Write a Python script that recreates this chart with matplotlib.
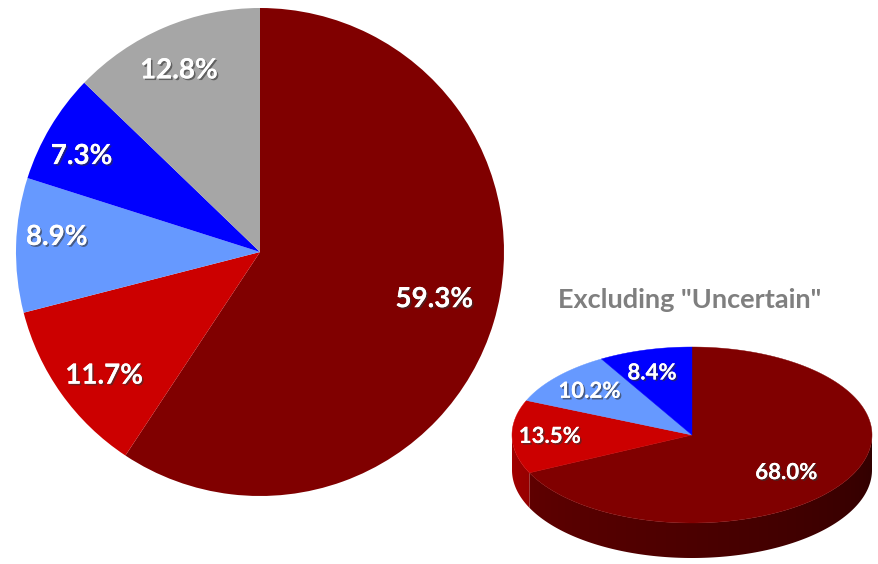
import numpy as np
import matplotlib
matplotlib.use("Agg")
import matplotlib.pyplot as plt
import matplotlib.patheffects as pe
from matplotlib.patches import Polygon

# ---- data ----
big_labels = ["Cat A", "Cat B", "Cat C", "Cat D", "Uncertain"]
big_values = [59.3, 11.7, 8.9, 7.3, 12.8]
small_labels = ["Cat A", "Cat B", "Cat C", "Cat D"]
small_values = [68.0, 13.5, 10.2, 8.4]
small_title = 'Excluding "Uncertain"'

# ---- styles ----
big_colors = ["#800000", "#CC0000", "#6699FF", "#0000FF", "#A6A6A6"]
small_colors = ["#800000", "#CC0000", "#6699FF", "#0000FF"]
big_label_r = [0.74, 0.815, 0.835, 0.83, 0.815]
big_label_dang = [1.6, 3.0, -2.6, 2.5, 1.0]
small_label_fx = [0.62, 0.79, 0.76, 0.85]
small_label_fy = [0.80, 0.79, 0.75, 0.73]

W, H = 879, 564
fig = plt.figure(figsize=(W / 100, H / 100), dpi=100)
ax = fig.add_axes([0, 0, 1, 1])

FONT = ["Lato", "DejaVu Sans"]
shadow = [pe.withSimplePatchShadow(offset=(1.2, -1.2), shadow_rgbFace="#333333", alpha=0.6), pe.Normal()]

# ---- big pie ----
bcx, bcy, br = 260, H - 252, 244
ax.pie(big_values, colors=big_colors, startangle=90, counterclock=False,
       center=(bcx, bcy), radius=br, wedgeprops=dict(linewidth=0))
tot = sum(big_values)
cum = 0.0
for v, d, da in zip(big_values, big_label_r, big_label_dang):
    mid = 90 - 360 * (cum + v / 2) / tot + da
    cum += v
    t = np.deg2rad(mid)
    ax.text(bcx + d * br * np.cos(t), bcy + d * br * np.sin(t), f"{v:.1f}%",
            ha="center", va="center", color="white", fontsize=20, fontweight="bold",
            family=FONT, path_effects=shadow, zorder=5)

# ---- small 3D pie ----
scx, scy, rx, ry, depth = 692, H - 435, 180, 88, 35
stot = sum(small_values)

cum = 0.0
bounds = []
for v in small_values:
    a0 = 90 - 360 * cum / stot
    a1 = 90 - 360 * (cum + v) / stot
    bounds.append((a0, a1))
    cum += v

# gradient image for side walls: shade depends on x position (angle in front half)
xs_img = np.linspace(scx - rx, scx + rx, 400)
ang_img = 360 - np.rad2deg(np.arccos(np.clip((xs_img - scx) / rx, -1, 1)))  # 180..360
k_img = 0.8 - 0.42 * (ang_img - 180) / 180

for (a0, a1), col in zip(bounds, small_colors):
    lo, hi = min(a0, a1), max(a0, a1)
    # front half in this slice's angular range
    segs = []
    for base in (-360, 0, 360):
        s0, s1 = max(lo, 180 + base), min(hi, 360 + base)
        if s1 > s0:
            segs.append((s0, s1))
    for s0, s1 in segs:
        angs = np.deg2rad(np.linspace(s0, s1, 150))
        xs = scx + rx * np.cos(angs)
        ys = scy + ry * np.sin(angs)
        pts = list(zip(xs, ys)) + list(zip(xs[::-1], ys[::-1] - depth))
        poly = Polygon(pts, closed=True, facecolor="none", edgecolor="none", zorder=2)
        ax.add_patch(poly)
        rgb = np.array(matplotlib.colors.to_rgb(col))
        img = (k_img[None, :, None] * rgb[None, None, :])
        im = ax.imshow(img, extent=(scx - rx, scx + rx, scy - ry - depth - 2, scy + 2),
                       origin="lower", aspect="auto", zorder=2, interpolation="bilinear")
        im.set_clip_path(poly)

# top faces
for (a0, a1), col in zip(bounds, small_colors):
    angs = np.deg2rad(np.linspace(a0, a1, 200))
    pts = [(scx, scy)] + list(zip(scx + rx * np.cos(angs), scy + ry * np.sin(angs)))
    ax.add_patch(Polygon(pts, closed=True, facecolor=col, edgecolor=col, linewidth=0.3, zorder=3))

for (a0, a1), v, fx, fy in zip(bounds, small_values, small_label_fx, small_label_fy):
    t = np.deg2rad((a0 + a1) / 2)
    ax.text(scx + fx * rx * np.cos(t), scy + fy * ry * np.sin(t), f"{v:.1f}%",
            ha="center", va="center", color="white", fontsize=16, fontweight="bold",
            family=FONT, path_effects=shadow, zorder=5)

ax.text(690, H - 300, small_title, ha="center", va="center", color="#7F7F7F",
        fontsize=19.5, fontweight="bold", family=FONT, zorder=5)

ax.set_xlim(0, W)
ax.set_ylim(0, H)
ax.set_aspect("equal")
ax.set_axis_off()
fig.savefig("out.png", dpi=100)
